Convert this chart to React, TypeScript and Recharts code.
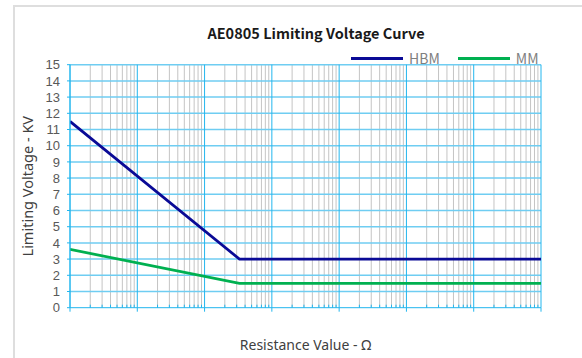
import React from "react";
import { LineChart, Line, XAxis, YAxis, ReferenceLine, Label } from "recharts";

// resistance (Ω) where the curves bend, log scale 1 Ω .. 10 MΩ
const resistance = [1, 330, 10000000];
const hbm = [11.5, 3, 3];
const mm = [3.6, 1.5, 1.5];

const decades = [1, 10, 100, 1000, 10000, 100000, 1000000, 10000000];
const minorSteps = [2, 3, 4, 5, 6, 7, 8, 9];
const voltTicks = [0, 1, 2, 3, 4, 5, 6, 7, 8, 9, 10, 11, 12, 13, 14, 15];

const series = [
  { key: "hbm", name: "HBM", color: "#0a0a96" },
  { key: "mm", name: "MM", color: "#00b050" },
];

const data = resistance.map((r, i) => ({ r, hbm: hbm[i], mm: mm[i] }));
const minors = decades.slice(0, -1).flatMap((d) => minorSteps.map((m) => d * m));
const allTicks = [...decades, ...minors].sort((a, b) => a - b);

const BLUE = "#22b6ee";
const HGRID = "#6fcdf2";
const GRAY = "#c4c4c4";
const FONT = '"Noto Sans", sans-serif';
const TICK_FONT = '"Liberation Sans", Arial, sans-serif';

const XTick = (props: any) => {
  const { x, y, payload } = props;
  const major = decades.includes(payload.value);
  return major ? (
    <line x1={x} x2={x} y1={y} y2={y + 4} stroke={BLUE} strokeWidth={1} />
  ) : (
    <line x1={x} x2={x} y1={y - 3} y2={y} stroke={BLUE} strokeWidth={1} />
  );
};

export default function App() {
  return (
    <div style={{ position: "absolute", left: 0, top: 0, width: 582, height: 358, overflow: "hidden", background: "#fff", fontFamily: FONT }}>
      <div style={{ position: "absolute", left: 13, top: 5, width: 700, height: 500, border: "2px solid #dedede" }} />
      <div style={{ position: "absolute", left: 0, width: 632, top: 22, textAlign: "center", fontSize: 14.5, fontWeight: 700, color: "#1a1a1a", lineHeight: "22px", fontFamily: '"Noto Sans CJK SC", sans-serif' }}>
        AE0805 Limiting Voltage Curve
      </div>
      <div style={{ position: "absolute", left: 351, top: 48, display: "flex", alignItems: "center", fontSize: 14, color: "#808080", lineHeight: "20px", fontFamily: '"Noto Sans CJK SC", sans-serif' }}>
        {series.map((s, i) => (
          <div key={s.key} style={{ display: "flex", alignItems: "center", marginLeft: i ? 18 : 0 }}>
            <span style={{ display: "inline-block", width: 52, height: 3, background: s.color, marginRight: 6 }} />
            <span>{s.name}</span>
          </div>
        ))}
      </div>
      <div style={{ position: "absolute", left: 0, top: 0 }}>
        <LineChart width={582} height={358} data={data} margin={{ top: 64.7, right: 41, bottom: 10.3, left: 10 }}>
          <XAxis
            dataKey="r"
            type="number"
            scale="log"
            domain={[1, 10000000]}
            ticks={allTicks}
            interval={0}
            allowDataOverflow
            height={40}
            axisLine={{ stroke: BLUE }}
            tickLine={false}
            tickSize={0}
            tickMargin={0}
            tick={<XTick />}
          >
            <Label value="Resistance Value - Ω" position="insideBottom" offset={-2} fill="#404040" fontSize={14} fontFamily={FONT} />
          </XAxis>
          <YAxis
            type="number"
            domain={[0, 15]}
            ticks={voltTicks}
            interval={0}
            width={60}
            axisLine={{ stroke: BLUE }}
            tickLine={{ stroke: BLUE }}
            tickSize={3}
            tickMargin={7}
            tick={{ fill: "#595959", fontSize: 13, fontFamily: TICK_FONT }}
          >
            <Label value="Limiting Voltage - KV" angle={-90} position="insideLeft" offset={18} style={{ textAnchor: "middle" }} fill="#404040" fontSize={14.5} fontFamily={FONT} />
          </YAxis>
          {minors.map((v) => (
            <ReferenceLine key={"m" + v} x={v} stroke={GRAY} strokeWidth={1} />
          ))}
          {voltTicks.slice(1).map((v) => (
            <ReferenceLine key={"h" + v} y={v} stroke={HGRID} strokeWidth={1.5} />
          ))}
          {decades.map((v) => (
            <ReferenceLine key={"d" + v} x={v} stroke={BLUE} strokeWidth={1} />
          ))}
          {series.map((s) => (
            <Line
              key={s.key}
              dataKey={s.key}
              name={s.name}
              type="linear"
              stroke={s.color}
              strokeWidth={2.75}
              dot={false}
              isAnimationActive={false}
            />
          ))}
        </LineChart>
      </div>
    </div>
  );
}
